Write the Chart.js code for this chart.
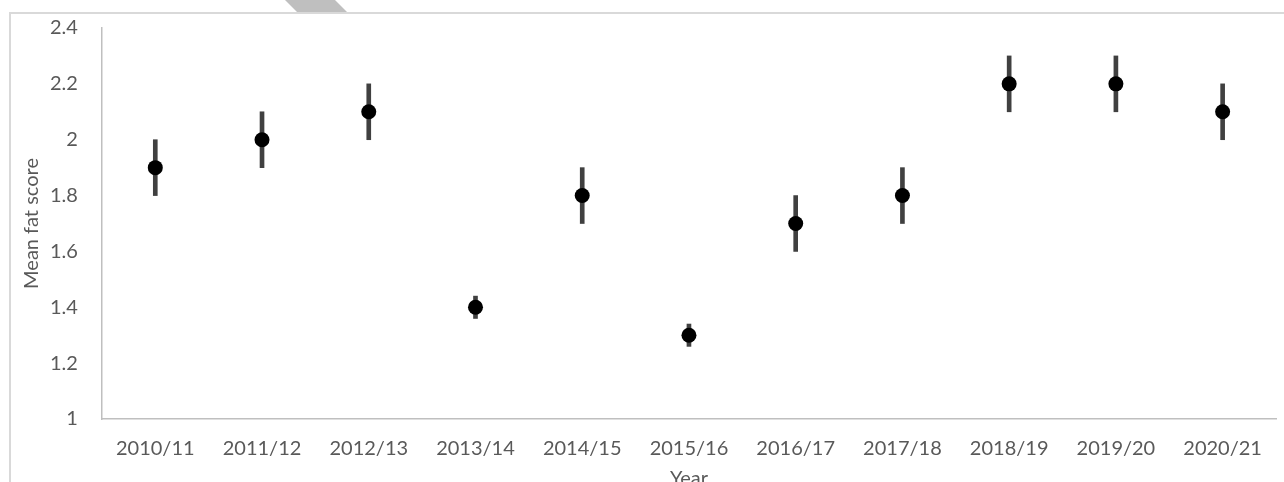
<!DOCTYPE html>
<html>
<head>
<meta charset="utf-8">
<script src="https://cdn.jsdelivr.net/npm/chart.js@4"></script>
<style>
  html, body { margin: 0; padding: 0; background: #fff; overflow: hidden; }
  body { width: 1284px; height: 482px; position: relative; }
  #frame { position: absolute; left: 9px; top: 12px; right: -2px; bottom: -2px;
           border-top: 2px solid #d9d9d9; border-left: 2px solid #d9d9d9; }
  #tab { position: absolute; left: 285px; top: 0; width: 62px; height: 12px; background: #bfbfbf;
         clip-path: polygon(0 0, 50px 0, 62px 12px, 12px 12px); }
  #fatChart { position: absolute; left: 0; top: -8px; }
</style>
</head>
<body>
<div id="tab"></div>
<div id="frame"></div>
<canvas id="fatChart" width="1284" height="499"></canvas>
<script>
const years = ["2010/11", "2011/12", "2012/13", "2013/14", "2014/15", "2015/16", "2016/17", "2017/18", "2018/19", "2019/20", "2020/21"];
const meanFat = [1.9, 2.0, 2.1, 1.4, 1.8, 1.3, 1.7, 1.8, 2.2, 2.2, 2.1];
const errFat = [0.1, 0.1, 0.1, 0.04, 0.1, 0.04, 0.1, 0.1, 0.1, 0.1, 0.1];

const textColor = '#595959';
const fontFamily = 'Lato, "Open Sans", sans-serif';

function buildErrorBars() {
    let bars = [];
    meanFat.forEach((m, i) => {
        bars.push([m - errFat[i], m + errFat[i]]);
    });
    return bars;
}

const ctx = document.getElementById('fatChart');
new Chart(ctx, {
    type: 'bar',
    data: {
        labels: years,
        datasets: [{
            type: 'line',
            label: 'Mean',
            data: meanFat,
            showLine: false,
            pointRadius: 7.5,
            pointHoverRadius: 7.5,
            pointBackgroundColor: '#000',
            pointBorderWidth: 0,
            order: 0
        }, {
            type: 'bar',
            label: 'Error',
            data: buildErrorBars(),
            backgroundColor: '#404040',
            barThickness: 4,
            borderWidth: 0,
            order: 1
        }]
    },
    options: {
        responsive: false,
        maintainAspectRatio: false,
        animation: false,
        layout: { padding: { top: 9, right: 8, left: 20, bottom: 0 } },
        plugins: {
            legend: { display: false },
            tooltip: { enabled: false }
        },
        scales: {
            x: {
                grid: { display: false, drawTicks: false },
                border: { display: true, color: '#bfbfbf', width: 1.5 },
                ticks: { color: textColor, font: { family: fontFamily, size: 20 }, padding: 18, maxRotation: 0, autoSkip: false },
                title: { display: true, text: 'Year', color: textColor, font: { family: fontFamily, size: 20 }, padding: { top: -12, bottom: 0 } }
            },
            y: {
                min: 1,
                max: 2.4,
                grid: { display: false, drawTicks: false },
                border: { display: true, color: '#bfbfbf', width: 1.5 },
                ticks: {
                    stepSize: 0.2, color: textColor, font: { family: fontFamily, size: 20 }, padding: 24,
                    callback: (v) => String(Math.round(v * 10) / 10)
                },
                title: { display: true, text: 'Mean fat score', color: textColor, font: { family: fontFamily, size: 20 }, padding: { top: 0, bottom: -18 } }
            }
        }
    }
});
</script>
</body>
</html>
